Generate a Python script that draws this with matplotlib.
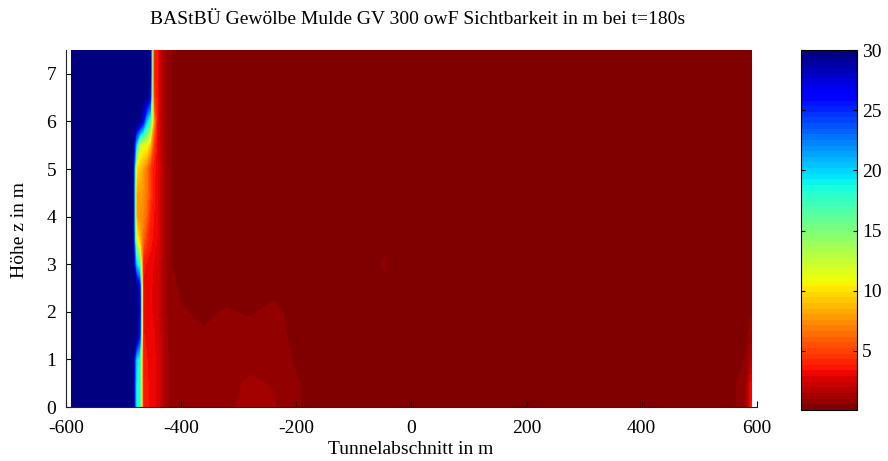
import numpy as np
import matplotlib
matplotlib.use("Agg")
import matplotlib.pyplot as plt
from matplotlib.colors import Normalize
from matplotlib.cm import ScalarMappable

plt.rcParams['font.family'] = ['Liberation Serif', 'DejaVu Serif']

# tunnel position (m) and height (m) of the grid nodes
x_pos = [-590, -484, -478, -472, -466, -460, -454, -448, -442, -436, -430, -420,
         -400, -360, -320, -280, -240, -200, -160, -100, -45, -38, 0,
         100, 200, 300, 400, 500, 560, 582, 590]
z_pos = [0.0, 0.5, 1.0, 1.5, 2.0, 2.5, 3.0, 3.5, 4.0, 4.5, 5.0, 5.5, 6.0, 6.5, 7.0, 7.5]

# visibility in m near the smoke front (columns -590 .. -420)
front = [
    [30, 30, 19, 18, 3.5, 3.5, 3.2, 3.0, 2.8, 2.2, 1.5, 0.9],   # z=0.0
    [30, 30, 19, 18, 3.5, 3.5, 3.2, 3.0, 2.8, 2.2, 1.5, 0.9],   # z=0.5
    [30, 30, 20, 18, 3.5, 3.4, 3.2, 3.0, 2.8, 2.2, 1.5, 0.9],   # z=1.0
    [30, 30, 30, 26, 3.4, 3.3, 3.1, 3.0, 2.7, 2.1, 1.4, 0.8],   # z=1.5
    [30, 30, 30, 28, 3.3, 3.2, 3.0, 2.8, 2.6, 2.0, 1.3, 0.8],   # z=2.0
    [30, 30, 30, 27, 3.3, 3.2, 3.0, 2.8, 2.6, 2.0, 1.3, 0.7],   # z=2.5
    [30, 30, 20, 17, 3.5, 3.3, 3.1, 2.9, 2.7, 2.1, 1.3, 0.6],   # z=3.0
    [30, 30, 12, 9, 6.0, 4.5, 3.6, 3.2, 2.9, 2.2, 1.3, 0.6],    # z=3.5
    [30, 30, 8, 7.5, 7.0, 6.0, 4.0, 3.4, 3.0, 2.3, 1.3, 0.6],   # z=4.0
    [30, 30, 8, 8.0, 7.5, 6.5, 5.0, 3.6, 3.0, 2.3, 1.3, 0.6],   # z=4.5
    [30, 30, 10, 9.0, 8.0, 6.5, 4.8, 3.6, 3.1, 2.3, 1.3, 0.6],  # z=5.0
    [30, 30, 20, 12, 11, 11, 9.0, 5.0, 3.2, 2.0, 1.2, 0.6],     # z=5.5
    [30, 30, 30, 30, 26, 20, 17, 8.0, 3.4, 2.0, 1.2, 0.6],      # z=6.0
    [30, 30, 30, 30, 30, 30, 27, 5.0, 3.4, 2.0, 1.2, 0.6],      # z=6.5
    [30, 30, 30, 30, 30, 30, 30, 4.0, 3.4, 2.0, 1.2, 0.6],      # z=7.0
    [30, 30, 30, 30, 30, 30, 30, 4.0, 3.4, 2.0, 1.2, 0.6],      # z=7.5
]

# visibility in m in the smoke filled part (columns -400 .. 590)
smoke = [
    [0.8, 0.9, 1.0, 1.1, 1.1, 0.6, 0.4, 0.3, 0.3, 0.4, 0.3, 0.3, 0.3, 0.3, 0.3, 0.4, 0.5, 0.9, 3.5],
    [0.8, 0.8, 0.9, 1.1, 1.0, 0.6, 0.4, 0.3, 0.3, 0.4, 0.3, 0.3, 0.3, 0.3, 0.3, 0.4, 0.5, 0.8, 3.0],
    [0.7, 0.8, 0.8, 0.9, 0.9, 0.5, 0.3, 0.3, 0.3, 0.4, 0.3, 0.3, 0.3, 0.3, 0.3, 0.3, 0.4, 0.6, 1.5],
    [0.7, 0.6, 0.7, 0.8, 0.8, 0.4, 0.3, 0.3, 0.4, 0.5, 0.3, 0.3, 0.3, 0.3, 0.3, 0.3, 0.4, 0.5, 0.8],
    [0.6, 0.5, 0.6, 0.5, 0.7, 0.4, 0.3, 0.3, 0.5, 0.4, 0.3, 0.3, 0.3, 0.3, 0.3, 0.3, 0.3, 0.4, 0.5],
    [0.5, 0.4, 0.4, 0.3, 0.4, 0.3, 0.3, 0.3, 0.5, 0.3, 0.3, 0.3, 0.3, 0.3, 0.3, 0.3, 0.3, 0.3, 0.4],
    [0.4, 0.3, 0.3, 0.3, 0.3, 0.3, 0.3, 0.3, 0.6, 0.3, 0.3, 0.3, 0.3, 0.3, 0.3, 0.3, 0.3, 0.3, 0.4],
    [0.4, 0.3, 0.3, 0.3, 0.3, 0.3, 0.3, 0.3, 0.5, 0.3, 0.3, 0.3, 0.3, 0.3, 0.3, 0.3, 0.3, 0.3, 0.4],
    [0.4, 0.3, 0.3, 0.3, 0.3, 0.3, 0.3, 0.3, 0.3, 0.3, 0.3, 0.3, 0.3, 0.3, 0.3, 0.3, 0.3, 0.3, 0.4],
    [0.4, 0.3, 0.3, 0.3, 0.3, 0.3, 0.3, 0.3, 0.3, 0.3, 0.3, 0.3, 0.3, 0.3, 0.3, 0.3, 0.3, 0.3, 0.4],
    [0.4, 0.3, 0.3, 0.3, 0.3, 0.3, 0.3, 0.3, 0.3, 0.3, 0.3, 0.3, 0.3, 0.3, 0.3, 0.3, 0.3, 0.3, 0.4],
    [0.4, 0.3, 0.3, 0.3, 0.3, 0.3, 0.3, 0.3, 0.3, 0.3, 0.3, 0.3, 0.3, 0.3, 0.3, 0.3, 0.3, 0.3, 0.4],
    [0.4, 0.3, 0.3, 0.3, 0.3, 0.3, 0.3, 0.3, 0.3, 0.3, 0.3, 0.3, 0.3, 0.3, 0.3, 0.3, 0.3, 0.3, 0.4],
    [0.4, 0.3, 0.3, 0.3, 0.3, 0.3, 0.3, 0.3, 0.3, 0.3, 0.3, 0.3, 0.3, 0.3, 0.3, 0.3, 0.3, 0.3, 0.4],
    [0.4, 0.3, 0.3, 0.3, 0.3, 0.3, 0.3, 0.3, 0.3, 0.3, 0.3, 0.3, 0.3, 0.3, 0.3, 0.3, 0.3, 0.3, 0.4],
    [0.4, 0.3, 0.3, 0.3, 0.3, 0.3, 0.3, 0.3, 0.3, 0.3, 0.3, 0.3, 0.3, 0.3, 0.3, 0.3, 0.3, 0.3, 0.4],
]

x_ticks = [-600, -400, -200, 0, 200, 400, 600]
z_ticks = [0, 1, 2, 3, 4, 5, 6, 7]
cbar_ticks = [5, 10, 15, 20, 25, 30]
vis_min, vis_max = 0.1, 30

vis = np.hstack([np.array(front), np.array(smoke)])

fig = plt.figure(figsize=(8.88, 4.61), dpi=100)
ax = fig.add_axes([0.0743, 0.117, 0.778, 0.7745])

cmap = plt.get_cmap('jet_r', 64)
norm = Normalize(vis_min, vis_max)
ax.contourf(x_pos, z_pos, vis, levels=np.linspace(vis_min, vis_max, 65),
            cmap=cmap, norm=norm, antialiased=False)

ax.set_xlim(-600, 600)
ax.set_ylim(0, 7.5)
ax.set_xticks(x_ticks)
ax.set_yticks(z_ticks)
ax.set_xticklabels([str(t) for t in x_ticks])
for s in ['top', 'right']:
    ax.spines[s].set_visible(False)
for s in ['left', 'bottom']:
    ax.spines[s].set_color('#222222')
ax.tick_params(direction='in', length=4, width=0.8, labelsize=14)
ax.tick_params(axis='x', pad=9)
ax.tick_params(axis='y', pad=7)

fig.text(0.47, 0.957, 'BAStBÜ Gewölbe Mulde GV 300 owF Sichtbarkeit in m bei t=180s',
         ha='center', va='center', fontsize=14)
fig.text(0.462, 0.024, 'Tunnelabschnitt in m', ha='center', va='center', fontsize=14)
fig.text(0.0225, 0.5, 'Höhe z in m', ha='center', va='center', rotation=90, fontsize=14)

cax = fig.add_axes([0.902, 0.111, 0.063, 0.7805])
cb = fig.colorbar(ScalarMappable(norm=norm, cmap=cmap), cax=cax)
cb.set_ticks(cbar_ticks)
cax.yaxis.set_ticks_position('both')
cax.tick_params(direction='in', length=3, width=0.8, labelsize=14, labelright=True, labelleft=False)
cb.outline.set_linewidth(0.8)

fig.savefig('out.png')
